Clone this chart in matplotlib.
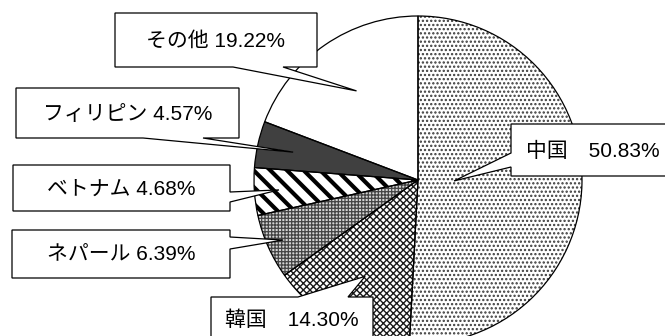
import matplotlib
matplotlib.use("Agg")
import matplotlib.pyplot as plt
from matplotlib.patches import Polygon
import numpy as np

# Share of foreign residents by nationality (%)
names = ["中国", "韓国", "ネパール", "ベトナム", "フィリピン", "その他"]
shares = [50.83, 14.30, 6.39, 4.68, 4.57, 19.22]
separators = ["\u3000", "\u3000", " ", " ", " ", " "]

W, H = 665, 336
CX, CY, R = 418, 180, 164

plt.rcParams["font.family"] = ["Liberation Sans", "Noto Sans CJK JP", "DejaVu Sans"]

fig = plt.figure(figsize=(W / 100, H / 100), dpi=100)
ax = fig.add_axes([0, 0, 1, 1])


def P(x, y):
    """Pixel coordinates (origin top-left) to data coordinates."""
    return (x, H - y)


# fill style per wedge: face, hatch, hatch colour, hatch line width
styles = [
    ("white", "....", "#3a3a3a", 1.1),
    ("white", "xxxxx", "#1a1a1a", 1.0),
    ("#d4d4d4", "+++++", "#444444", 0.9),
    ("white", "\\\\", "black", 3.0),
    ("#404040", None, "#404040", 1.0),
    ("white", None, "white", 1.0),
]

fill, _ = ax.pie(shares, startangle=90, counterclock=False, radius=R,
                 center=P(CX, CY), frame=True)
for w, (fc, hatch, hc, hlw) in zip(fill, styles):
    w.set_facecolor(fc)
    w.set_edgecolor(hc)
    w.set_linewidth(0)
    if hatch:
        w.set_hatch(hatch)
        if hasattr(w, "set_hatch_linewidth"):
            w.set_hatch_linewidth(hlw)

outline, _ = ax.pie(shares, startangle=90, counterclock=False, radius=R,
                    center=P(CX, CY), frame=True,
                    wedgeprops=dict(facecolor="none", edgecolor="black",
                                    linewidth=0.9))

# callout boxes: (x0, y0, x1, y1), side of pointer, pointer base span, tip radius fraction
callouts = [
    ((511, 124, 675, 176), "left", (153, 167), 0.22),
    ((211, 297, 373, 342), "top", (298, 348), 0.67),
    ((12, 230, 230, 278), "right", (237, 249), 0.90),
    ((13, 165, 230, 211), "right", (192, 202), 0.85),
    ((16, 88, 239, 138), "bottom", (143, 203), 0.78),
    ((115, 13, 317, 67), "bottom", (233, 283), 0.66),
]

cum = np.cumsum([0] + shares)
total = cum[-1]
for i, ((x0, y0, x1, y1), side, (a, b), frac) in enumerate(callouts):
    mid = (cum[i] + cum[i + 1]) / 2 / total * 2 * np.pi
    tx = CX + frac * R * np.sin(mid)
    ty = CY - frac * R * np.cos(mid)
    tip = (tx, ty)
    if side == "bottom":
        pts = [(x0, y0), (x1, y0), (x1, y1), (b, y1), tip, (a, y1), (x0, y1)]
    elif side == "top":
        pts = [(x0, y0), (a, y0), tip, (b, y0), (x1, y0), (x1, y1), (x0, y1)]
    elif side == "right":
        pts = [(x0, y0), (x1, y0), (x1, a), tip, (x1, b), (x1, y1), (x0, y1)]
    else:
        pts = [(x0, y0), (x1, y0), (x1, y1), (x0, y1), (x0, b), tip, (x0, a)]
    ax.add_patch(Polygon([P(*p) for p in pts], closed=True, facecolor="white",
                         edgecolor="black", linewidth=0.9, zorder=5))
    label = f"{names[i]}{separators[i]}{shares[i]:.2f}%"
    ax.text(*P((x0 + x1) / 2, (y0 + y1) / 2 + 1), label, ha="center", va="center",
            fontsize=15, color="black", zorder=6)

ax.set_xlim(0, W)
ax.set_ylim(0, H)
ax.set_aspect("auto")
ax.set_axis_off()

fig.savefig("out.png", dpi=100)
